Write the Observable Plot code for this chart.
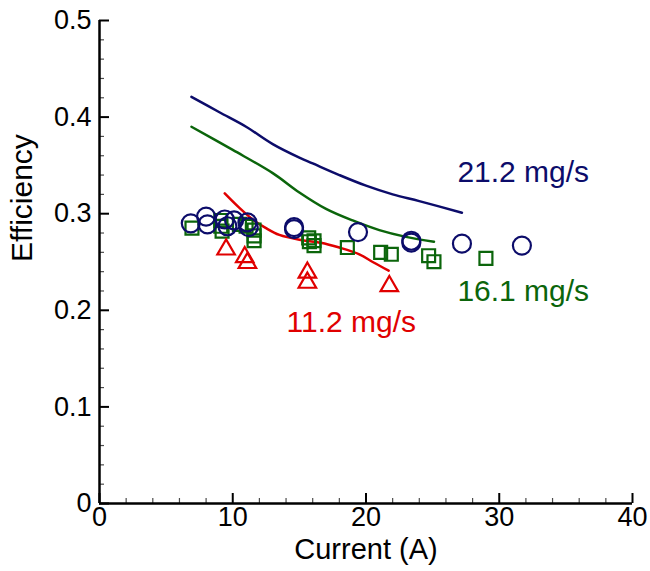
<!DOCTYPE html>
<html>
<head>
<meta charset="utf-8">
<script src="https://cdn.jsdelivr.net/npm/d3@7"></script>
<script src="https://cdn.jsdelivr.net/npm/@observablehq/plot@0.6"></script>
<style>
  html, body { margin: 0; padding: 0; background: #fff; }
  svg { display: block; }
</style>
</head>
<body>
<div id="chart"></div>
<script>
// Model curves (Current A, Efficiency)
const line212X = [6.9, 9, 11, 13, 15, 16, 18, 20, 22, 24, 27.2];
const line212Y = [0.421, 0.405, 0.390, 0.372, 0.358, 0.352, 0.340, 0.329, 0.320, 0.313, 0.301];
const line161X = [6.9, 10, 13, 15, 17, 19, 21, 23, 25.1];
const line161Y = [0.390, 0.366, 0.342, 0.322, 0.305, 0.293, 0.283, 0.276, 0.271];
const line112X = [9.4, 10.5, 11.5, 12.5, 13.5, 15, 16.6, 18, 19.5, 20.5, 21.7];
const line112Y = [0.321, 0.306, 0.294, 0.285, 0.278, 0.273, 0.270, 0.265, 0.258, 0.250, 0.241];

// Measurements
const circ212X = [6.85, 8.0, 8.1, 9.4, 9.6, 10.1, 11.1, 11.2, 14.6, 14.6, 19.4, 23.4, 23.4, 27.2, 31.7];
const circ212Y = [0.290, 0.297, 0.289, 0.294, 0.287, 0.293, 0.291, 0.286, 0.286, 0.284, 0.281, 0.272, 0.270, 0.269, 0.267];
const sq161X = [6.94, 9.1, 9.1, 9.2, 10.5, 11.0, 11.6, 11.6, 11.6, 15.7, 15.75, 16.1, 16.1, 18.6, 21.1, 21.9, 24.7, 25.1, 29.0];
const sq161Y = [0.285, 0.293, 0.287, 0.282, 0.289, 0.287, 0.283, 0.277, 0.272, 0.275, 0.271, 0.267, 0.272, 0.265, 0.260, 0.258, 0.2565, 0.2503, 0.2538];
const tri112X = [9.5, 10.9, 11.1, 15.6, 15.6, 21.75];
const tri112Y = [0.263, 0.255, 0.249, 0.239, 0.2286, 0.225];

// Labels
const labelText = ["21.2 mg/s", "16.1 mg/s", "11.2 mg/s"];
const labelX = [31.8, 31.8, 18.9];
const labelY = [0.343, 0.220, 0.188];

const xTicks = [0, 10, 20, 30, 40];
const xMinor = [2, 4, 6, 8, 12, 14, 16, 18, 22, 24, 26, 28, 32, 34, 36, 38];
const yTicks = [0, 0.1, 0.2, 0.3, 0.4, 0.5];
const yMinor = [0.02, 0.04, 0.06, 0.08, 0.12, 0.14, 0.16, 0.18, 0.22, 0.24, 0.26, 0.28, 0.32, 0.34, 0.36, 0.38, 0.42, 0.44, 0.46, 0.48];

const colors = {"21.2": "#0c0c6a", "16.1": "#0b650b", "11.2": "#e00000"};

const zip = (xs, ys) => xs.map((x, i) => ({x, y: ys[i]}));
const l212 = zip(line212X, line212Y), l161 = zip(line161X, line161Y), l112 = zip(line112X, line112Y);
const c212 = zip(circ212X, circ212Y), s161 = zip(sq161X, sq161Y), t112 = zip(tri112X, tri112Y);
const labels = labelText.map((t, i) => ({t, x: labelX[i], y: labelY[i], c: colors[t.split(" ")[0]]}));

const font = "Liberation Sans, Arial, Helvetica, sans-serif";

const chart = Plot.plot({
  width: 650,
  height: 571,
  marginLeft: 99,
  marginRight: 18,
  marginTop: 20,
  marginBottom: 68,
  style: {fontFamily: font, fontSize: "27px", background: "#fff", color: "#000"},
  x: {domain: [0, 40], label: null},
  y: {domain: [0, 0.5], label: null},
  marks: [
    Plot.axisX({ticks: xTicks, tickSize: 0, tickPadding: 3, tickFormat: d => String(d), fontSize: 27, label: null}),
    Plot.axisY({ticks: yTicks, tickSize: 0, tickPadding: 8, tickFormat: d => d === 0 ? "0" : d3.format(".1f")(d), fontSize: 27, label: null}),
    Plot.axisX({ticks: xTicks, tickSize: -10, text: null, label: null, strokeWidth: 2}),
    Plot.axisX({ticks: xMinor, tickSize: -5, text: null, label: null, strokeWidth: 1.2, strokeOpacity: 0.7}),
    Plot.axisY({ticks: yTicks, tickSize: -10, text: null, label: null, strokeWidth: 2}),
    Plot.axisY({ticks: yMinor, tickSize: -5, text: null, label: null, strokeWidth: 1.2, strokeOpacity: 0.7}),
    Plot.ruleY([0], {stroke: "#000", strokeWidth: 2.5}),
    Plot.ruleX([0], {stroke: "#000", strokeWidth: 2.5}),
    Plot.line(l212, {x: "x", y: "y", stroke: colors["21.2"], strokeWidth: 2.5, curve: "catmull-rom"}),
    Plot.line(l161, {x: "x", y: "y", stroke: colors["16.1"], strokeWidth: 2.5, curve: "catmull-rom"}),
    Plot.line(l112, {x: "x", y: "y", stroke: colors["11.2"], strokeWidth: 2.5, curve: "catmull-rom"}),
    Plot.dot(s161, {x: "x", y: "y", symbol: "square", r: 7.3, stroke: colors["16.1"], strokeWidth: 2.2, fill: "none"}),
    Plot.dot(t112, {x: "x", y: "y", symbol: "triangle", r: 6.5, stroke: colors["11.2"], strokeWidth: 2.2, fill: "none"}),
    Plot.dot(c212, {x: "x", y: "y", symbol: "circle", r: 9, stroke: colors["21.2"], strokeWidth: 2.2, fill: "none"}),
    Plot.text(labels, {x: "x", y: "y", text: "t", fill: "c", fontSize: 30, textAnchor: "middle"}),
    Plot.text(["Current (A)"], {frameAnchor: "bottom", dy: 55, fontSize: 29}),
    Plot.text(["Efficiency"], {frameAnchor: "left", dx: -77, rotate: -90, fontSize: 30})
  ]
});
document.getElementById("chart").appendChild(chart);
</script>
</body>
</html>
